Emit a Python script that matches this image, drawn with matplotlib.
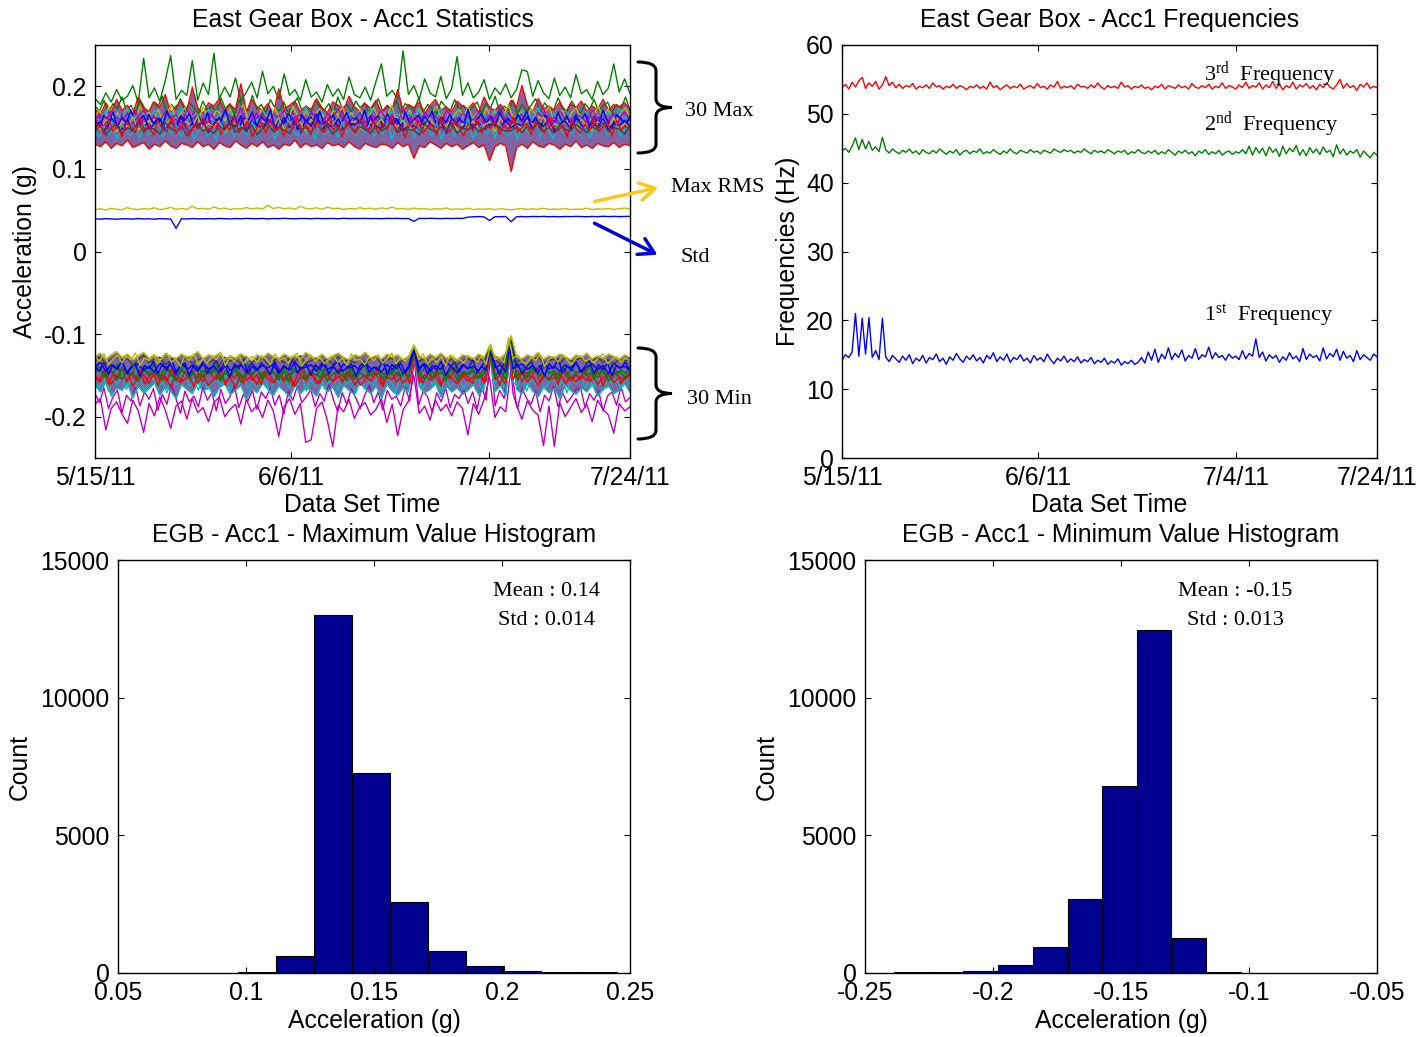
import numpy as np
import matplotlib
matplotlib.use('Agg')
import matplotlib.pyplot as plt
from matplotlib.path import Path
from matplotlib.patches import PathPatch, FancyArrowPatch

plt.rcParams['font.family'] = ['Liberation Sans', 'DejaVu Sans']
plt.rcParams['mathtext.fontset'] = 'custom'
plt.rcParams['mathtext.rm'] = 'Liberation Serif'
plt.rcParams['mathtext.it'] = 'Liberation Serif:italic'

# ---------------- DATA ----------------
date_tick_pos = [0.0, 0.3664, 0.7364, 1.0]
date_tick_labels = ['5/15/11', '6/6/11', '7/4/11', '7/24/11']

# 30-max band (milli-g), representative traces
max_green = [185,178,192,181,196,183,188,201,180,234,
             186,198,182,207,237,184,195,189,231,183,
             204,190,240,185,199,187,210,182,193,205,
             186,218,191,200,184,215,189,196,183,208,
             187,193,181,202,188,197,184,211,190,186,
             199,183,206,227,188,195,185,243,190,201,
             184,209,192,187,212,185,197,236,189,204,
             186,193,208,184,198,190,203,186,196,220,
             218,188,207,192,185,210,189,199,186,214,
             191,196,184,206,190,198,227,193,209,191]
max_green2 = [176,170,183,168,179,173,187,171,177,166,184,174,
              169,181,175,188,167,178,172,185,170,180,174,167,
              182,171,176,169,186,173,179,166,183,175,170,189,
              172,178,168,184,174,170,181,167,177,186,171,176,
              168,183,175,171,179,166,187,173,178,169,182,174,
              180,167,176,185,170,177,172,183,168,179,175,171,
              186,169,178,173,166,182,175,170,184,172,177,168,
              175,181,167,179,174,188,169,176,171,183,166,178,
              170,177,185,168,180,173,171,186,175,169,182,174,
              167,179,172,184,170,176,181,168,178,173,187,171]
max_red_hi = [172,166,180,169,184,171,177,167,187,173,
              169,181,175,190,168,176,182,170,199,174,
              167,180,176,185,170,178,172,203,169,184,
              175,171,179,166,197,173,177,182,169,176,
              172,185,174,168,181,177,171,188,175,170,
              179,173,183,168,176,172,196,170,178,174,
              181,167,177,184,171,175,169,182,176,173,
              180,168,187,174,171,178,170,183,175,201,
              177,169,185,173,176,171,181,167,179,174,
              182,170,176,172,184,171,178,175,180,173]
max_olive2 = [164,171,158,175,162,168,157,173,165,160,176,163,
              169,158,172,161,167,177,159,166,174,162,170,157,
              175,164,160,171,166,158,173,162,168,178,161,167,
              156,172,165,160,174,163,169,158,176,164,161,170,
              159,167,173,162,157,171,165,175,160,168,163,172,
              158,166,174,161,169,164,177,159,167,162,171,157,
              173,165,160,168,176,162,170,158,166,172,163,175,
              161,168,157,174,164,170,159,167,177,162,165,171,
              158,173,166,161,169,175,160,164,171,157,168,174,
              163,159,170,166,176,161,172,165,158,169,174,162]
max_cyan = [162,158,170,155,166,160,174,157,165,168,
            159,171,163,156,169,161,175,158,164,167,
            160,172,157,166,162,169,155,173,160,164,
            158,170,163,167,156,171,161,165,159,176,
            162,157,168,164,160,172,158,166,163,169,
            157,174,161,165,159,170,164,156,168,165,
            171,158,165,160,173,163,157,167,161,170,
            159,166,164,162,172,160,168,160,157,169,
            165,161,174,159,163,167,158,171,162,166,
            160,170,157,165,163,168,161,173,159,166]
max_magenta = [160,166,156,170,162,158,168,155,164,171,
               159,163,157,169,161,166,154,172,160,165,
               158,167,162,156,170,163,159,174,157,164,
               161,168,155,166,160,171,158,163,165,157,
               169,161,154,167,162,173,158,164,160,168,
               156,165,162,170,159,163,157,172,161,161,
               155,168,160,164,158,171,162,156,167,163,
               159,169,157,165,161,174,158,158,163,166,
               160,155,168,162,164,157,170,161,159,166,
               163,156,171,160,164,158,167,162,169,159]
max_magenta2 = [155,163,150,168,158,153,166,148,160,171,154,162,
                149,165,157,152,169,156,161,147,164,158,170,151,
                163,155,167,150,159,172,153,161,156,166,148,160,
                168,152,162,157,146,165,159,154,170,150,163,157,
                151,167,155,161,149,164,158,171,153,160,166,152,
                159,148,169,156,162,151,167,155,145,163,158,172,
                154,161,150,166,157,153,168,149,162,159,155,170,
                147,164,158,152,167,156,161,150,169,154,163,157,
                166,151,160,155,171,148,163,157,152,168,159,153,
                161,156,170,149,164,158,153,167,155,162,150,165]
max_blue = [150,158,145,162,153,148,160,144,156,165,
            149,154,161,146,157,152,163,147,155,150,
            159,143,154,162,148,156,151,164,145,158,
            153,149,160,155,146,162,150,157,144,159,
            152,166,148,155,150,161,147,156,153,158,
            145,163,151,149,157,154,160,146,152,152,
            148,164,155,150,157,143,161,153,149,158,
            151,156,147,154,154,150,159,150,155,152,
            163,148,157,151,160,146,154,158,149,165,
            153,147,156,150,161,148,155,152,159,151]
max_blue2 = [158,151,165,154,169,150,162,156,171,153,160,148,
             166,155,161,152,170,157,149,164,159,167,151,163,
             154,168,150,160,157,172,153,165,149,162,158,169,
             152,164,156,171,150,161,155,167,159,148,166,157,
             163,151,170,154,160,165,149,158,168,153,162,156,
             171,150,159,164,152,167,157,161,148,169,155,160,
             165,153,158,170,151,163,156,166,150,162,154,172,
             149,160,167,155,163,152,169,157,161,151,166,158,
             170,154,162,150,165,159,153,168,156,164,149,161,
             157,167,152,163,155,171,158,150,166,160,153,164]
max_olive = [155,148,160,152,145,158,150,163,147,154,
             159,149,156,152,161,146,153,157,150,164,
             148,155,151,159,144,156,153,149,160,152,
             147,158,154,150,162,148,155,151,157,146,
             160,153,149,156,152,163,147,154,158,150,
             145,157,152,161,149,155,151,159,146,150,
             156,150,162,148,154,152,160,147,155,151,
             158,149,153,157,145,161,152,152,156,148,
             159,154,151,163,147,155,150,158,153,149,
             160,152,146,157,154,150,162,148,155,151]
max_gray = [146,152,141,149,155,143,150,147,157,144,
            151,148,142,156,149,145,153,140,150,154,
            146,148,143,152,147,158,144,150,146,153,
            141,149,155,145,151,147,143,154,148,150,
            144,156,146,152,142,149,147,155,145,151,
            148,143,153,146,150,157,144,149,147,147,
            141,154,148,145,151,146,156,143,150,147,
            153,145,149,151,155,148,146,146,151,144,
            152,147,157,145,150,143,153,148,146,154,
            149,144,151,147,156,145,150,148,142,152]
max_cyan2 = [145,139,152,142,148,136,155,144,140,150,137,153,
             141,147,158,138,149,143,154,139,146,151,136,145,
             152,140,147,135,156,143,149,138,153,145,141,157,
             139,150,144,155,137,148,142,159,146,140,152,143,
             148,136,154,141,145,151,138,157,143,149,140,155,
             144,153,139,147,142,158,136,150,145,141,154,138,
             151,143,148,140,156,137,146,152,139,149,144,160,
             137,147,153,142,150,138,155,144,140,148,136,152,
             146,141,157,139,151,145,137,154,143,149,142,156,
             140,152,138,148,144,158,141,146,153,139,150,143]
max_red2 = [148,155,142,160,146,152,139,157,150,144,162,147,
            153,141,158,149,145,163,143,151,156,140,154,148,
            161,145,150,157,142,153,147,164,144,151,158,139,
            149,156,143,160,146,152,140,155,148,162,145,153,
            141,158,150,144,163,147,154,139,157,149,143,160,
            152,146,159,142,155,148,161,145,151,138,156,147,
            158,143,150,154,141,162,148,145,157,151,140,155,
            146,160,144,152,149,158,142,154,147,163,145,150,
            155,141,157,148,144,161,150,146,153,139,158,149,
            143,154,147,162,145,151,156,140,159,148,152,146]
max_red_lo = [130,127,133,125,131,128,135,126,129,132,
              124,130,127,134,128,125,131,129,126,133,
              127,130,124,132,128,126,134,129,125,131,
              127,133,126,129,124,130,128,135,126,131,
              127,129,125,132,128,130,126,133,127,124,
              131,128,126,130,129,125,132,127,130,113,
              128,126,133,129,125,131,127,130,124,128,
              132,126,129,110,127,131,128,97,126,130,
              125,133,128,126,131,129,124,130,127,134,
              126,129,125,131,128,127,132,126,130,128]

# 30-min band (milli-g)
min_olive = [-127,-123,-130,-125,-121,-128,-124,-131,-126,-122,
             -129,-125,-132,-123,-127,-130,-124,-128,-126,-121,
             -130,-125,-127,-123,-131,-126,-129,-124,-128,-132,
             -125,-129,-123,-127,-130,-124,-128,-126,-131,-122,
             -127,-129,-124,-130,-126,-123,-128,-131,-125,-127,
             -122,-129,-126,-130,-124,-128,-125,-131,-127,-113,
             -126,-130,-124,-128,-123,-129,-126,-131,-125,-127,
             -130,-124,-128,-114,-126,-129,-123,-102,-127,-130,
             -125,-128,-122,-130,-126,-129,-124,-127,-131,-125,
             -128,-123,-130,-126,-129,-124,-127,-131,-125,-128]
min_olive2 = [-128,-133,-124,-137,-130,-126,-135,-127,-131,-123,-138,-129,
              -132,-125,-136,-128,-123,-134,-130,-139,-126,-132,-124,-137,
              -129,-135,-127,-131,-122,-138,-128,-133,-125,-136,-130,-127,
              -134,-126,-130,-137,-124,-132,-129,-135,-127,-123,-139,-131,
              -125,-133,-128,-136,-131,-126,-134,-129,-138,-124,-132,-130,
              -137,-127,-132,-125,-135,-130,-123,-136,-128,-133,-126,-114,
              -131,-124,-136,-129,-134,-127,-138,-125,-132,-130,-135,-126,
              -129,-134,-126,-137,-112,-131,-128,-135,-104,-130,-125,-133,
              -136,-128,-132,-124,-139,-130,-127,-134,-125,-131,-137,-129,
              -126,-133,-130,-135,-128,-124,-136,-131,-127,-134,-129,-132]
min_gray = [-132,-128,-136,-130,-127,-134,-129,-138,-131,-126,
            -135,-130,-128,-137,-132,-129,-134,-127,-136,-131,
            -129,-135,-131,-138,-128,-133,-130,-136,-127,-134,
            -131,-128,-137,-132,-129,-135,-130,-133,-126,-136,
            -132,-129,-134,-130,-137,-128,-133,-131,-135,-129,
            -134,-130,-127,-136,-131,-129,-135,-132,-128,-115,
            -133,-129,-136,-131,-128,-134,-130,-137,-132,-129,
            -135,-130,-133,-116,-131,-136,-129,-104,-134,-130,
            -137,-131,-128,-135,-132,-130,-136,-129,-133,-131,
            -129,-136,-132,-128,-134,-131,-137,-130,-133,-129]
min_blue = [-140,-134,-145,-137,-142,-133,-148,-138,-136,-144,
            -139,-146,-135,-141,-137,-149,-134,-143,-138,-145,
            -136,-142,-139,-147,-133,-144,-140,-137,-146,-135,
            -143,-138,-141,-136,-148,-139,-144,-134,-142,-140,
            -137,-145,-135,-143,-139,-147,-136,-141,-138,-144,
            -134,-142,-140,-146,-137,-143,-135,-148,-139,-117,
            -141,-136,-145,-138,-143,-134,-140,-147,-137,-142,
            -139,-144,-135,-118,-141,-137,-146,-105,-140,-136,
            -143,-138,-147,-135,-142,-139,-145,-137,-141,-134,
            -146,-140,-136,-143,-138,-148,-135,-141,-139,-144]
min_blue2 = [-139,-145,-134,-149,-137,-143,-131,-147,-140,-136,-151,-138,
             -142,-133,-148,-136,-144,-130,-146,-139,-135,-150,-137,-143,
             -134,-147,-140,-132,-145,-138,-152,-136,-142,-131,-148,-139,
             -144,-135,-141,-149,-133,-146,-138,-143,-130,-147,-140,-136,
             -150,-137,-143,-134,-148,-139,-132,-145,-141,-136,-151,-138,
             -133,-146,-140,-144,-131,-149,-137,-142,-135,-147,-139,-118,
             -145,-136,-148,-138,-143,-133,-150,-140,-134,-146,-137,-142,
             -131,-147,-139,-144,-116,-137,-149,-135,-108,-142,-136,-148,
             -140,-133,-145,-138,-151,-136,-142,-130,-147,-139,-144,-134,
             -146,-139,-132,-148,-137,-143,-135,-150,-138,-141,-134,-145]
min_green = [-147,-141,-152,-144,-155,-140,-149,-146,-157,-143,
             -150,-145,-153,-139,-148,-156,-142,-151,-146,-154,
             -144,-149,-141,-155,-147,-152,-143,-158,-145,-150,
             -142,-153,-148,-146,-156,-141,-151,-144,-149,-154,
             -146,-150,-143,-157,-148,-145,-152,-140,-155,-147,
             -151,-144,-149,-146,-154,-142,-150,-147,-153,-120,
             -148,-155,-143,-150,-146,-152,-141,-156,-147,-149,
             -145,-153,-148,-121,-151,-144,-155,-108,-150,-146,
             -152,-143,-149,-147,-156,-145,-151,-142,-154,-148,
             -144,-150,-146,-153,-141,-157,-148,-145,-152,-147]
min_green2 = [-145,-139,-152,-142,-148,-136,-155,-144,-150,-138,-153,-141,
              -149,-137,-146,-156,-140,-151,-143,-147,-135,-154,-145,-139,
              -152,-141,-148,-137,-157,-144,-150,-139,-146,-153,-136,-149,
              -140,-155,-143,-149,-138,-152,-145,-158,-141,-147,-136,-151,
              -146,-139,-154,-142,-150,-137,-148,-144,-156,-140,-153,-143,
              -138,-151,-145,-140,-155,-142,-149,-136,-152,-146,-141,-122,
              -150,-143,-137,-153,-146,-140,-157,-144,-139,-151,-145,-148,
              -141,-154,-147,-138,-119,-152,-143,-149,-110,-145,-156,-140,
              -153,-140,-146,-151,-137,-148,-144,-155,-139,-150,-142,-147,
              -144,-149,-138,-154,-141,-146,-152,-137,-150,-143,-148,-139]
min_red = [-152,-158,-147,-161,-150,-155,-145,-163,-153,-149,
           -160,-146,-156,-151,-164,-148,-157,-153,-144,-159,
           -150,-162,-155,-147,-158,-152,-165,-149,-156,-151,
           -161,-146,-154,-159,-150,-157,-148,-163,-152,-155,
           -147,-160,-153,-149,-158,-151,-156,-145,-162,-154,
           -150,-157,-148,-161,-152,-155,-146,-159,-153,-123,
           -158,-149,-156,-151,-163,-147,-154,-160,-150,-157,
           -152,-146,-159,-124,-155,-150,-161,-110,-153,-148,
           -157,-151,-162,-149,-155,-153,-146,-160,-152,-158,
           -150,-156,-148,-161,-153,-147,-159,-152,-155,-149]
min_red2 = [-150,-156,-144,-161,-148,-153,-141,-158,-147,-155,-143,-160,
            -152,-146,-163,-149,-157,-142,-154,-159,-145,-151,-164,-147,
            -158,-143,-150,-155,-140,-162,-148,-153,-146,-160,-144,-156,
            -149,-161,-145,-152,-158,-141,-155,-147,-163,-150,-143,-157,
            -144,-154,-160,-148,-151,-157,-142,-159,-146,-153,-149,-162,
            -156,-147,-152,-141,-164,-150,-145,-158,-153,-143,-160,-126,
            -151,-159,-146,-155,-143,-161,-149,-154,-140,-157,-148,-153,
            -160,-145,-152,-157,-120,-150,-162,-147,-112,-155,-144,-158,
            -146,-153,-141,-159,-150,-155,-148,-161,-144,-152,-157,-149,
            -155,-142,-158,-151,-146,-163,-149,-153,-145,-160,-152,-147]
min_cyan = [-162,-170,-158,-175,-165,-168,-160,-177,-163,-171,
            -166,-159,-174,-164,-169,-178,-161,-167,-172,-158,
            -170,-163,-176,-165,-160,-173,-168,-162,-179,-166,
            -171,-159,-167,-174,-163,-169,-176,-161,-172,-165,
            -168,-175,-160,-170,-164,-177,-162,-168,-173,-159,
            -166,-172,-163,-178,-161,-169,-174,-165,-170,-126,
            -164,-171,-167,-160,-176,-163,-170,-165,-173,-168,
            -161,-174,-166,-127,-170,-162,-175,-113,-167,-172,
            -160,-169,-176,-164,-171,-166,-178,-162,-168,-173,
            -165,-170,-161,-175,-167,-163,-172,-168,-160,-171]
min_cyan2 = [-158,-165,-152,-169,-156,-161,-149,-167,-155,-163,-150,-170,
             -160,-153,-166,-157,-171,-151,-162,-158,-148,-164,-155,-168,
             -152,-167,-159,-154,-163,-150,-170,-156,-161,-149,-166,-157,
             -164,-151,-158,-172,-153,-160,-147,-165,-157,-162,-150,-169,
             -155,-163,-149,-166,-158,-152,-168,-154,-161,-156,-171,-151,
             -167,-157,-162,-150,-165,-153,-159,-170,-148,-163,-156,-128,
             -158,-166,-151,-161,-155,-169,-152,-164,-157,-150,-167,-154,
             -162,-149,-168,-156,-122,-160,-153,-165,-115,-158,-163,-151,
             -169,-155,-161,-152,-166,-158,-150,-164,-156,-171,-153,-160,
             -151,-165,-157,-163,-149,-168,-155,-160,-154,-166,-152,-162]
min_magenta = [-185,-178,-216,-190,-182,-197,-208,-180,-193,-219,
               -184,-199,-176,-192,-214,-187,-181,-203,-178,-195,
               -189,-206,-183,-176,-200,-191,-185,-209,-179,-194,
               -186,-201,-180,-193,-224,-188,-178,-197,-184,-231,
               -228,-190,-182,-205,-236,-186,-194,-179,-202,-188,
               -183,-198,-191,-178,-207,-185,-223,-192,-181,-150,
               -196,-187,-204,-180,-193,-185,-199,-182,-190,-222,
               -184,-197,-179,-152,-201,-188,-194,-140,-186,-203,
               -181,-192,-198,-235,-187,-236,-183,-200,-189,-178,
               -195,-185,-206,-180,-191,-198,-220,-184,-193,-188]
min_magenta2 = [-172,-183,-165,-190,-176,-168,-195,-174,-181,-163,-187,-170,
                -179,-166,-192,-173,-185,-161,-178,-196,-169,-182,-175,-188,
                -164,-180,-171,-193,-167,-184,-176,-162,-189,-173,-181,-168,
                -191,-170,-178,-165,-186,-174,-197,-169,-180,-163,-183,-176,
                -167,-188,-172,-181,-160,-179,-194,-171,-185,-166,-177,-190,
                -174,-162,-183,-170,-192,-168,-179,-175,-187,-164,-181,-130,
                -186,-169,-176,-195,-171,-182,-165,-189,-173,-178,-167,-184,
                -170,-191,-164,-180,-125,-187,-168,-178,-118,-172,-190,-166,
                -178,-185,-169,-194,-174,-181,-163,-188,-171,-183,-176,-167,
                -165,-189,-172,-180,-168,-193,-175,-170,-186,-164,-182,-177]

# Max RMS and Std (milli-g)
max_rms = [50.5,51.8,50.2,52.4,51.0,50.6,53.1,51.4,50.8,52.0,
           51.2,52.9,50.7,51.6,53.5,51.1,52.2,50.9,54.8,51.5,
           52.3,51.0,53.8,51.7,52.5,50.8,52.0,51.3,53.2,51.6,
           52.6,51.2,55.9,52.0,53.4,51.8,52.7,51.1,54.6,52.2,
           51.5,52.9,51.0,53.7,51.9,52.4,50.9,52.1,51.4,53.0,
           51.7,52.5,51.1,52.8,51.6,53.9,51.3,52.2,51.0,52.6,
           51.4,52.0,50.8,51.9,51.2,52.7,50.9,51.6,51.1,52.3,
           50.7,51.5,51.0,52.1,50.6,51.8,51.2,50.4,51.4,52.0,
           50.9,51.6,51.1,52.4,50.8,51.5,51.0,52.2,50.7,51.3,
           51.0,52.5,50.6,51.7,51.2,52.0,50.9,51.8,52.6,51.4]
std_vals = [39.6,39.2,39.8,39.4,39.1,39.7,39.5,39.3,39.9,39.4,
            39.6,39.2,39.8,39.5,39.3,28.0,39.7,39.4,39.9,39.5,
            39.6,39.8,39.4,40.0,39.7,39.5,39.9,39.6,40.1,39.8,
            39.7,40.0,39.5,39.9,39.7,40.2,39.8,39.6,40.0,39.9,
            39.7,40.1,39.8,39.9,40.0,39.6,40.2,39.8,40.0,39.9,
            40.1,39.8,40.0,39.7,40.2,39.9,40.1,39.8,40.0,36.5,
            40.1,39.9,40.2,40.0,39.8,40.1,39.9,40.2,40.0,41.6,
            42.0,42.3,41.9,37.5,42.2,42.0,42.4,36.0,42.1,42.3,
            42.0,42.4,42.2,42.5,42.1,42.3,42.0,42.4,42.2,42.5,
            42.3,42.1,42.4,42.2,42.6,42.3,42.5,42.2,42.4,42.6]

# Frequencies (Hz)
freq3 = [53.8,54.3,53.6,54.6,53.9,54.8,55.3,53.7,54.5,54.0,54.7,53.6,54.2,55.4,54.1,54.6,
         53.8,54.3,53.7,54.1,53.9,54.4,53.6,54.0,53.8,54.2,53.7,54.5,53.9,54.1,53.6,54.0,
         53.8,54.3,53.7,54.1,53.9,53.5,54.0,53.8,54.2,53.7,54.0,53.6,54.6,53.8,54.1,53.5,
         53.9,54.2,53.7,54.0,53.8,54.3,53.6,53.9,54.1,53.7,54.4,53.8,54.0,53.6,54.2,53.9,
         54.7,53.7,54.0,53.8,54.1,53.6,54.3,53.9,54.0,53.7,54.2,53.8,54.5,53.9,53.6,54.1,
         53.8,54.0,53.7,54.6,53.9,54.1,53.6,54.0,53.8,54.2,53.7,53.9,53.5,54.0,53.8,54.3,
         53.6,54.1,53.9,53.7,54.2,53.8,54.0,53.6,54.4,53.9,53.7,54.1,53.8,54.3,53.6,54.0,
         53.8,54.5,53.7,54.1,53.9,53.6,54.2,53.8,54.6,53.7,54.1,53.9,54.5,53.6,54.2,53.8,
         54.7,53.7,54.3,53.5,54.1,53.8,54.6,53.6,54.2,53.9,54.4,53.7,54.1,53.5,54.3,53.8,
         54.5,53.9,53.6,54.2,55.0,53.7,54.4,53.8,54.1,53.4,54.3,53.9,54.5,53.7,54.0,53.8]
freq2 = [44.6,45.0,44.4,45.3,46.5,44.8,46.3,44.9,46.0,44.7,45.2,44.5,46.6,44.8,44.3,44.9,
         44.5,44.2,44.7,44.4,44.9,44.3,44.6,44.1,44.8,44.4,44.2,44.7,44.3,44.9,44.5,44.1,
         44.6,44.3,44.8,44.0,44.5,44.7,44.2,44.6,44.4,44.9,44.2,44.5,44.3,44.8,44.4,44.1,
         44.6,44.3,44.9,44.4,44.2,44.7,44.5,44.3,44.8,44.4,44.6,44.2,44.7,44.5,44.3,44.9,
         44.6,44.4,44.8,44.5,44.7,44.3,44.6,44.4,44.9,44.5,44.2,44.7,44.4,44.6,44.3,44.8,
         44.5,44.2,44.6,44.4,44.7,44.1,44.5,44.3,44.8,44.4,44.2,44.6,44.3,44.7,44.1,44.5,
         44.2,44.8,44.4,44.0,44.6,44.3,44.7,44.2,44.5,43.9,44.6,44.3,44.8,44.1,44.5,44.2,
         44.7,44.0,44.4,44.6,44.1,44.5,44.3,44.8,44.2,45.3,44.0,45.1,44.3,45.0,43.9,45.2,
         44.4,44.9,43.8,45.3,44.2,45.0,44.5,45.4,44.0,44.8,43.9,45.1,44.3,44.9,44.1,45.2,
         44.4,44.7,43.8,45.5,44.2,44.9,44.0,44.6,44.3,44.8,43.7,44.6,44.1,43.6,44.4,44.0]
freq1 = [14.2,15.0,14.6,15.4,21.0,14.8,20.3,15.1,20.4,14.6,15.6,14.3,20.3,14.7,14.0,14.9,
         14.4,13.9,14.8,14.2,15.0,13.7,14.5,14.1,14.9,13.8,14.6,14.3,15.1,14.0,14.5,13.6,
         14.7,14.2,15.2,14.4,13.9,14.8,14.3,15.0,14.1,14.6,13.8,14.9,14.4,15.3,14.0,14.7,
         14.2,15.1,13.9,14.6,14.3,15.0,14.1,14.5,13.8,14.9,14.2,14.6,14.0,15.1,14.3,13.7,
         14.5,14.1,14.8,13.9,14.4,14.0,14.7,13.8,14.3,14.0,14.6,13.7,14.2,13.9,14.5,13.6,
         14.1,13.8,14.4,13.5,14.0,13.7,14.2,13.6,13.9,14.6,13.8,15.4,14.2,15.8,13.9,15.1,
         14.4,16.0,14.3,15.2,14.6,15.7,14.1,14.9,14.5,15.9,14.3,15.0,14.7,16.1,14.4,15.3,
         14.6,14.9,14.2,15.1,14.5,14.8,14.3,15.6,14.4,15.2,14.8,17.3,14.6,15.4,14.1,15.0,
         14.5,14.9,13.9,14.7,14.2,15.3,14.4,14.8,14.0,15.9,14.3,15.1,14.6,14.9,14.1,16.0,
         14.4,15.2,14.7,15.8,14.2,15.5,14.5,14.9,14.0,15.6,14.3,15.0,14.6,14.2,15.1,14.7]

# Histograms
max_bin_centers = [0.1043, 0.1191, 0.1339, 0.1488, 0.1636, 0.1784, 0.1932, 0.2080, 0.2229, 0.2377]
max_counts = [40, 620, 12990, 7260, 2590, 800, 265, 84, 25, 20]
min_bin_centers = [-0.2318, -0.2183, -0.2048, -0.1912, -0.1777, -0.1641, -0.1506, -0.1371, -0.1235, -0.1100]
min_counts = [20, 30, 72, 300, 930, 2700, 6780, 12450, 1255, 25]
max_mean, max_std = '0.14', '0.014'
min_mean, min_std = '-0.15', '0.013'

# ---------------- STYLE ----------------
C_BLUE = (0, 0, 1)
C_GREEN = (0, 0.5, 0)
C_RED = (1, 0, 0)
C_CYAN = (0, 0.75, 0.75)
C_MAG = (0.75, 0, 0.75)
C_OLIVE = (0.75, 0.75, 0)
C_GRAY = (0.25, 0.25, 0.25)
BAR = (0, 0, 0.5625)
CORE = (0.36, 0.24, 0.56)
FS = 17.8
SERIF = 'Liberation Serif'
SFS = 16

W, H = 1423, 1037
fig = plt.figure(figsize=(W / 100, H / 100), dpi=100)


def fx(x):
    return x / W


def fy(y):
    return 1 - y / H


def axes_px(l, t, r, b):
    return fig.add_axes([fx(l), fy(b), (r - l) / W, (b - t) / H])


def style(ax):
    for s in ax.spines.values():
        s.set_linewidth(1.0)
        s.set_color('black')
    ax.tick_params(direction='in', top=True, right=True, length=4, width=0.8,
                   labelsize=FS, pad=6)


def xs(v):
    return np.linspace(0, 1, len(v))


def g(v):
    return np.array(v) / 1000.0


# ---------------- TOP LEFT ----------------
ax1 = axes_px(95, 45, 630, 458)
lw = 1.0
# dense core underlay: envelope of the equal-length traces of each band
mx_core = np.array([max_red_hi, max_cyan, max_magenta, max_blue, max_olive, max_gray, max_red_lo])
ax1.fill_between(xs(max_cyan), g(mx_core.min(axis=0)), g(mx_core.max(axis=0)),
                 color=CORE, lw=0, alpha=0.8)
mn_core = np.array([min_olive, min_gray, min_blue, min_green, min_red, min_cyan])
ax1.fill_between(xs(min_gray), g(mn_core.min(axis=0)), g(mn_core.max(axis=0)),
                 color=CORE, lw=0, alpha=0.8)

for series, col in [(max_green, C_GREEN), (max_green2, C_GREEN), (max_red_hi, C_RED),
                    (max_olive2, C_OLIVE), (max_magenta2, C_MAG), (max_cyan, C_CYAN),
                    (max_magenta, C_MAG), (max_blue2, C_BLUE), (max_olive, C_OLIVE),
                    (max_blue, C_BLUE), (max_cyan2, C_CYAN), (max_gray, C_GRAY),
                    (max_red2, C_RED), (max_red_lo, C_RED)]:
    ax1.plot(xs(series), g(series), color=col, lw=lw)
for series, col in [(min_magenta, C_MAG), (min_magenta2, C_MAG), (min_cyan, C_CYAN),
                    (min_cyan2, C_CYAN), (min_red, C_RED), (min_red2, C_RED),
                    (min_green, C_GREEN), (min_green2, C_GREEN), (min_blue, C_BLUE),
                    (min_blue2, C_BLUE), (min_gray, C_GRAY), (min_olive2, C_OLIVE),
                    (min_olive, C_OLIVE)]:
    ax1.plot(xs(series), g(series), color=col, lw=lw)
ax1.plot(xs(max_rms), g(max_rms), color=C_OLIVE, lw=lw)
ax1.plot(xs(std_vals), g(std_vals), color=C_BLUE, lw=lw)
ax1.set_xlim(0, 1)
ax1.set_ylim(-0.25, 0.25)
ax1.set_yticks([-0.2, -0.1, 0, 0.1, 0.2])
ax1.set_yticklabels(['-0.2', '-0.1', '0', '0.1', '0.2'])
ax1.set_xticks(date_tick_pos)
ax1.set_xticklabels(date_tick_labels)
style(ax1)
ax1.set_title('East Gear Box - Acc1 Statistics', fontsize=FS, pad=13)
ax1.set_xlabel('Data Set Time', fontsize=FS, labelpad=2)
ax1.set_ylabel('Acceleration (g)', fontsize=FS, labelpad=5)

# ---------------- TOP RIGHT ----------------
ax2 = axes_px(842, 45, 1377, 458)
ax2.plot(xs(freq3), freq3, color=C_RED, lw=lw)
ax2.plot(xs(freq2), freq2, color=C_GREEN, lw=lw)
ax2.plot(xs(freq1), freq1, color=C_BLUE, lw=lw)
ax2.set_xlim(0, 1)
ax2.set_ylim(0, 60)
ax2.set_yticks(range(0, 61, 10))
ax2.set_xticks(date_tick_pos)
ax2.set_xticklabels(date_tick_labels)
style(ax2)
ax2.set_title('East Gear Box - Acc1 Frequencies', fontsize=FS, pad=13)
ax2.set_xlabel('Data Set Time', fontsize=FS, labelpad=2)
ax2.set_ylabel('Frequencies (Hz)', fontsize=FS, labelpad=4)
for lab, yv in [(r'3$^{\mathrm{rd}}$  Frequency', 54.8),
                (r'2$^{\mathrm{nd}}$  Frequency', 47.6),
                (r'1$^{\mathrm{st}}$  Frequency', 19.95)]:
    ax2.text(0.677, yv, lab, fontsize=SFS, family=SERIF, ha='left', va='baseline')

# ---------------- BOTTOM LEFT ----------------
ax3 = axes_px(118, 560, 630, 973)
bw = max_bin_centers[1] - max_bin_centers[0]
ax3.bar(max_bin_centers, max_counts, width=bw, color=BAR, edgecolor='black', lw=0.8)
ax3.set_xlim(0.05, 0.25)
ax3.set_ylim(0, 15000)
ax3.set_xticks([0.05, 0.1, 0.15, 0.2, 0.25])
ax3.set_xticklabels(['0.05', '0.1', '0.15', '0.2', '0.25'])
ax3.set_yticks([0, 5000, 10000, 15000])
ax3.set_yticklabels(['0', '5000', '10000', '15000'])
style(ax3)
ax3.set_title('EGB - Acc1 - Maximum Value Histogram', fontsize=FS, pad=13)
ax3.set_xlabel('Acceleration (g)', fontsize=FS, labelpad=2.5)
ax3.set_ylabel('Count', fontsize=FS, labelpad=6)
ax3.text(0.2175, 13840, 'Mean : ' + max_mean, fontsize=SFS, family=SERIF, ha='center', va='center')
ax3.text(0.2175, 12790, 'Std : ' + max_std, fontsize=SFS, family=SERIF, ha='center', va='center')

# ---------------- BOTTOM RIGHT ----------------
ax4 = axes_px(865, 560, 1377, 973)
bw2 = min_bin_centers[1] - min_bin_centers[0]
ax4.bar(min_bin_centers, min_counts, width=bw2, color=BAR, edgecolor='black', lw=0.8)
ax4.set_xlim(-0.25, -0.05)
ax4.set_ylim(0, 15000)
ax4.set_xticks([-0.25, -0.2, -0.15, -0.1, -0.05])
ax4.set_xticklabels(['-0.25', '-0.2', '-0.15', '-0.1', '-0.05'])
ax4.set_yticks([0, 5000, 10000, 15000])
ax4.set_yticklabels(['0', '5000', '10000', '15000'])
style(ax4)
ax4.set_title('EGB - Acc1 - Minimum Value Histogram', fontsize=FS, pad=13)
ax4.set_xlabel('Acceleration (g)', fontsize=FS, labelpad=2.5)
ax4.set_ylabel('Count', fontsize=FS, labelpad=6)
ax4.text(-0.1053, 13840, 'Mean : ' + min_mean, fontsize=SFS, family=SERIF, ha='center', va='center')
ax4.text(-0.1053, 12790, 'Std : ' + min_std, fontsize=SFS, family=SERIF, ha='center', va='center')

# ---------------- ANNOTATIONS (top left) ----------------
def brace(x0, xl, xt, yt, yb, r=9):
    ym = (yt + yb) / 2.0
    pts = [(x0, yt), (xl, yt), (xl, yt + r), (xl, ym - r), (xl, ym), (xt, ym),
           (xl, ym), (xl, ym + r), (xl, yb - r), (xl, yb), (x0, yb)]
    codes = [Path.MOVETO, Path.CURVE3, Path.CURVE3, Path.LINETO, Path.CURVE3, Path.CURVE3,
             Path.CURVE3, Path.CURVE3, Path.LINETO, Path.CURVE3, Path.CURVE3]
    verts = [(fx(a), fy(b)) for a, b in pts]
    fig.add_artist(PathPatch(Path(verts, codes), fill=False, lw=2.2, color='black',
                             transform=fig.transFigure, capstyle='round'))


brace(638, 656, 672, 62, 153)
brace(638, 656, 672, 348, 439)

fig.text(fx(685), fy(112), '30 Max', fontsize=SFS, family=SERIF, ha='left', va='center')
fig.text(fx(671), fy(188), 'Max RMS', fontsize=SFS, family=SERIF, ha='left', va='center')
fig.text(fx(680), fy(257), 'Std', fontsize=SFS, family=SERIF, ha='left', va='center')
fig.text(fx(687), fy(399), '30 Min', fontsize=SFS, family=SERIF, ha='left', va='center')

for (xa, ya), (xb, yb), col in [((592, 202), (661, 187), (1.0, 0.78, 0.1)),
                                ((592, 222), (660, 256), (0, 0, 0.85))]:
    fig.add_artist(FancyArrowPatch((fx(xa), fy(ya)), (fx(xb), fy(yb)),
                                   transform=fig.transFigure,
                                   arrowstyle='->,head_length=0.6,head_width=0.35',
                                   mutation_scale=18, lw=2.5, color=col))

fig.savefig('out.png', dpi=100)
